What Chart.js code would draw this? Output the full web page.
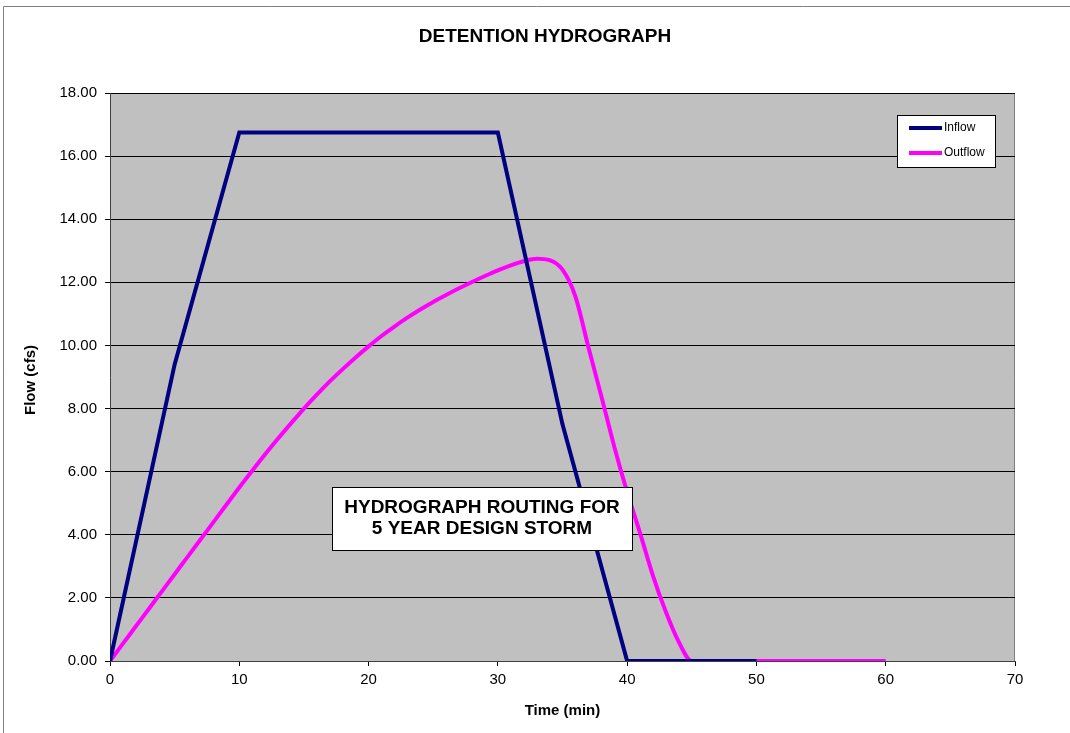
<!DOCTYPE html>
<html>
<head>
<meta charset="utf-8">
<script src="https://cdn.jsdelivr.net/npm/chart.js@4"></script>
<style>
  body { margin: 0; background: #fff; }
  #wrap { width: 1070px; height: 733px; }
</style>
</head>
<body>
<div id="wrap"><canvas id="myChart" width="1070" height="733"></canvas></div>
<script>
// time (min) and flows (cfs)
var inflowTime = [0, 5, 10, 15, 20, 25, 30, 35, 40, 45, 50];
var inflowFlow = [0, 9.4, 16.75, 16.75, 16.75, 16.75, 16.75, 7.5, 0, 0, 0];

var outflowTime = [0, 1, 2, 3, 4, 5, 6, 7, 8, 9, 10, 11, 12, 13, 14, 15, 16, 17, 18, 19, 20,
    21, 22, 23, 24, 25, 26, 27, 28, 29, 30, 31, 32, 33, 34, 35, 36, 37, 38, 39, 40,
    41, 42, 43, 44, 45, 50, 55, 60];
var outflowFlow = [0, 0.55, 1.1, 1.65, 2.2, 2.75, 3.3, 3.85, 4.4, 4.95, 5.5, 6.03, 6.55, 7.05, 7.53, 8.0, 8.44, 8.86, 9.25, 9.62, 9.97,
    10.3, 10.6, 10.88, 11.14, 11.38, 11.6, 11.81, 12.01, 12.2, 12.38, 12.54, 12.67, 12.75, 12.7, 12.4, 11.55, 9.95, 8.4, 6.8, 5.35,
    4.05, 2.7, 1.55, 0.6, 0, 0, 0, 0];

var xTicks = [0, 10, 20, 30, 40, 50, 60, 70];
var yTicks = [0, 2, 4, 6, 8, 10, 12, 14, 16, 18];

var seriesNames = ["Inflow", "Outflow"];
var seriesColors = ['#000080', '#FF00FF'];
var chartTitle = "DETENTION HYDROGRAPH";
var xTitle = "Time (min)";
var yTitle = "Flow (cfs)";
var noteLines = ["HYDROGRAPH ROUTING FOR", "5 YEAR DESIGN STORM"];

function toPoints(xs, ys) {
    return xs.map(function(x, i) { return {x: x, y: ys[i]}; });
}

const FONT = "'Liberation Sans', Arial, sans-serif";

// background, frame, titles, legend and note box
const decor = {
    id: 'decor',
    beforeDraw: function(chart) {
        const c = chart.ctx, a = chart.chartArea;
        c.save();
        c.fillStyle = '#C0C0C0';
        c.fillRect(a.left, a.top, a.right - a.left, a.bottom - a.top);
        c.strokeStyle = '#808080';
        c.lineWidth = 1;
        c.beginPath();
        c.moveTo(a.left, a.top + 0.5);
        c.lineTo(a.right - 0.5, a.top + 0.5);
        c.lineTo(a.right - 0.5, a.bottom);
        c.stroke();
        // outer frame
        c.beginPath();
        c.moveTo(3.5, 733);
        c.lineTo(3.5, 6.5);
        c.lineTo(1070, 6.5);
        c.stroke();
        c.restore();
    },
    afterDraw: function(chart) {
        const c = chart.ctx, a = chart.chartArea;
        c.save();
        c.fillStyle = '#000';
        c.textAlign = 'center';
        c.textBaseline = 'middle';
        c.font = "bold 19px " + FONT;
        c.fillText(chartTitle, 545, 37);
        c.font = "bold 15px " + FONT;
        c.fillText(xTitle, (a.left + a.right) / 2, 711);
        c.save();
        c.translate(31, 380);
        c.rotate(-Math.PI / 2);
        c.fillText(yTitle, 0, 0);
        c.restore();

        // legend
        c.fillStyle = '#fff';
        c.fillRect(897, 115, 98, 52);
        c.strokeStyle = '#000';
        c.lineWidth = 1;
        c.strokeRect(897.5, 115.5, 98, 52);
        c.font = "12px " + FONT;
        c.textAlign = 'left';
        seriesNames.forEach(function(name, i) {
            var y = 128 + i * 25;
            c.strokeStyle = seriesColors[i];
            c.lineWidth = 4;
            c.beginPath();
            c.moveTo(909, y);
            c.lineTo(942, y);
            c.stroke();
            c.fillStyle = '#000';
            c.fillText(name, 944, y);
        });

        // note box
        c.fillStyle = '#fff';
        c.fillRect(332, 487, 300, 63);
        c.strokeStyle = '#000';
        c.lineWidth = 1;
        c.strokeRect(332.5, 487.5, 300, 63);
        c.fillStyle = '#000';
        c.textAlign = 'center';
        c.font = "bold 19px " + FONT;
        c.fillText(noteLines[0], 482, 508);
        c.fillText(noteLines[1], 482, 529);
        c.restore();
    }
};

const ctx = document.getElementById('myChart').getContext('2d');
const myChart = new Chart(ctx, {
    type: 'line',
    data: {
        datasets: [
            {
                label: seriesNames[0],
                data: toPoints(inflowTime, inflowFlow),
                borderColor: seriesColors[0],
                borderWidth: 4,
                pointRadius: 0,
                tension: 0,
                fill: false
            },
            {
                label: seriesNames[1],
                data: toPoints(outflowTime, outflowFlow),
                borderColor: seriesColors[1],
                borderWidth: 4,
                pointRadius: 0,
                cubicInterpolationMode: 'monotone',
                fill: false
            }
        ]
    },
    options: {
        responsive: false,
        animation: false,
        layout: { padding: { top: 93, right: 55, left: 0, bottom: 0 } },
        plugins: {
            legend: { display: false },
            title: { display: false },
            tooltip: { enabled: false }
        },
        scales: {
            x: {
                type: 'linear',
                min: 0,
                max: 70,
                afterFit: function(s) { s.height = 72; },
                afterBuildTicks: function(s) { s.ticks = xTicks.map(function(v) { return {value: v}; }); },
                grid: { drawOnChartArea: false, drawTicks: true, tickLength: 5, color: '#000' },
                border: { color: '#404040', width: 1 },
                ticks: { color: '#000', padding: 5, font: { family: FONT, size: 15 }, maxRotation: 0 }
            },
            y: {
                min: 0,
                max: 18,
                afterFit: function(s) { s.width = 110; },
                afterBuildTicks: function(s) { s.ticks = yTicks.map(function(v) { return {value: v}; }); },
                grid: { color: '#000', lineWidth: 1, tickLength: 5 },
                border: { color: '#404040', width: 1 },
                ticks: {
                    color: '#000',
                    padding: 8,
                    font: { family: FONT, size: 15 },
                    callback: function(v) { return v.toFixed(2); }
                }
            }
        }
    },
    plugins: [decor]
});
</script>
</body>
</html>
